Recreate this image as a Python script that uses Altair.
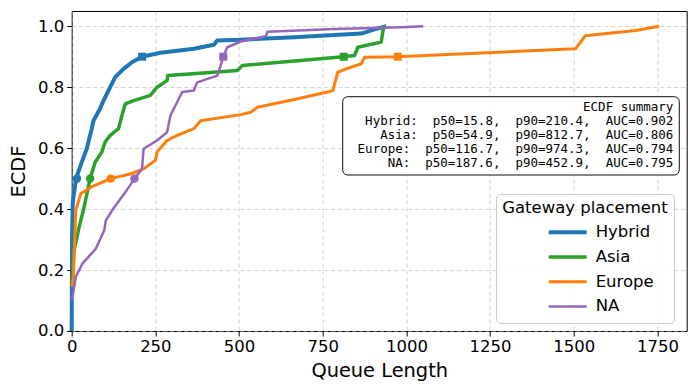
import altair as alt
import pandas as pd

series = ["Hybrid", "Asia", "Europe", "NA"]
colors = ["#1f77b4", "#2ca02c", "#ff7f0e", "#9467bd"]
widths = [4.0, 2.5, 2.5, 2.5]

hybrid_x = [0, 1, 3, 8, 13, 30, 45, 60, 65, 85, 95, 115, 130, 155, 180, 210, 265, 365, 425, 435, 505, 665, 865, 905, 940]
hybrid_y = [0.0, 0.30, 0.42, 0.46, 0.50, 0.554, 0.598, 0.664, 0.69, 0.73, 0.756, 0.80, 0.833, 0.86, 0.882, 0.90, 0.913, 0.926, 0.939, 0.953, 0.956, 0.964, 0.976, 0.99, 1.0]

asia_x = [1, 7, 22, 37, 54.9, 70, 90, 100, 115, 140, 150, 160, 185, 235, 255, 285, 287, 425, 495, 510, 812.7, 845, 855, 925, 930, 935]
asia_y = [0.15, 0.264, 0.34, 0.406, 0.50, 0.554, 0.587, 0.62, 0.642, 0.664, 0.707, 0.745, 0.756, 0.773, 0.80, 0.822, 0.838, 0.849, 0.855, 0.871, 0.90, 0.904, 0.931, 0.948, 0.986, 1.0]

europe_x = [1, 5, 12, 27, 57, 116.7, 177, 215, 250, 255, 285, 315, 365, 385, 505, 535, 555, 675, 765, 780, 795, 820, 865, 875, 974.3, 1505, 1535, 1685, 1755]
europe_y = [0.145, 0.177, 0.395, 0.45, 0.472, 0.50, 0.516, 0.532, 0.56, 0.587, 0.625, 0.642, 0.664, 0.69, 0.71, 0.718, 0.734, 0.762, 0.784, 0.789, 0.849, 0.86, 0.877, 0.898, 0.90, 0.926, 0.969, 0.986, 1.0]

na_x = [1, 12, 32, 72, 97, 102, 127, 157, 187.6, 210, 215, 255, 285, 295, 310, 330, 365, 375, 435, 445, 452.9, 465, 505, 580, 585, 785, 985, 1050]
na_y = [0.10, 0.177, 0.221, 0.27, 0.33, 0.363, 0.406, 0.45, 0.50, 0.532, 0.598, 0.625, 0.652, 0.707, 0.74, 0.784, 0.789, 0.816, 0.838, 0.871, 0.90, 0.931, 0.95, 0.967, 0.982, 0.991, 0.997, 1.0]

p50 = [15.8, 54.9, 116.7, 187.6]
p90 = [210.4, 812.7, 974.3, 452.9]
auc = [0.902, 0.806, 0.794, 0.795]

xs = [hybrid_x, asia_x, europe_x, na_x]
ys = [hybrid_y, asia_y, europe_y, na_y]

rows = []
for s, xv, yv in zip(series, xs, ys):
    for i, (a, b) in enumerate(zip(xv, yv)):
        rows.append({"series": s, "x": a, "y": b, "i": i})
df_lines = pd.DataFrame(rows)

df_p50 = pd.DataFrame({"series": series, "x": p50, "y": [0.5] * 4})
df_p90 = pd.DataFrame({"series": series, "x": p90, "y": [0.9] * 4})

NB = "\u00a0"
lines = ["ECDF summary"]
for s, a, b, c in zip(series, p50, p90, auc):
    lines.append(f"{s}:  p50={a:.1f},  p90={b:.1f},  AUC={c:.3f}".replace(" ", NB))
summary_text = "\n".join(lines)
df_box = pd.DataFrame({"t": [summary_text]})

color_scale = alt.Scale(domain=series, range=colors)
xscale = alt.Scale(domain=[0, 1837.5], nice=False)
yscale = alt.Scale(domain=[0, 1.05], nice=False)

xaxis = alt.Axis(values=[0, 250, 500, 750, 1000, 1250, 1500, 1750], format="d", title="Queue Length",
                 titleY=40, titleBaseline="middle", labelFlush=False)
yaxis = alt.Axis(values=[0, 0.2, 0.4, 0.6, 0.8, 1.0], format=".1f", title="ECDF", labelFlush=False,
                 titleX=-53.5, titleY=160, titleAngle=-90, titleBaseline="middle", titleAlign="center")

legend = alt.Legend(
    title="Gateway placement", orient="none", legendX=424.3, legendY=183,
    fillColor="rgba(255,255,255,0.85)", strokeColor="#cccccc", cornerRadius=4, padding=6,
    titleFontSize=16.5, labelFontSize=16.5, titleFontWeight="normal", titleAnchor="middle",
    titleFont="DejaVu Sans", labelFont="DejaVu Sans", titleColor="black", labelColor="black",
    symbolType="stroke", symbolSize=1444, clipHeight=20, rowPadding=4.7, titlePadding=5.8,
    symbolOffset=29.7, labelOffset=7,
)

lines_layer = alt.Chart(df_lines).mark_line(strokeJoin="round").encode(
    x=alt.X("x:Q", scale=xscale, axis=xaxis),
    y=alt.Y("y:Q", scale=yscale, axis=yaxis),
    color=alt.Color("series:N", scale=color_scale, legend=legend),
    strokeWidth=alt.StrokeWidth("series:N", scale=alt.Scale(domain=series, range=widths), legend=legend),
    order="i:Q",
)

p50_layer = alt.Chart(df_p50).mark_point(shape="circle", filled=True, size=72, opacity=1).encode(
    x=alt.X("x:Q", scale=xscale), y=alt.Y("y:Q", scale=yscale),
    color=alt.Color("series:N", scale=color_scale, legend=None),
)
p90_layer = alt.Chart(df_p90).mark_point(shape="square", filled=True, size=64, opacity=1).encode(
    x=alt.X("x:Q", scale=xscale), y=alt.Y("y:Q", scale=yscale),
    color=alt.Color("series:N", scale=color_scale, legend=None),
)

box = alt.Chart(df_box).mark_rect(fill="white", stroke="black", strokeWidth=1, cornerRadius=5, opacity=0.95).encode(
    x=alt.value(271), x2=alt.value(607.6), y=alt.value(85.7), y2=alt.value(164),
)
txt = alt.Chart(df_box).mark_text(align="right", baseline="middle", lineBreak="\n", lineHeight=14.2,
                                  font="DejaVu Sans Mono", fontSize=12.5, color="black").encode(
    x=alt.value(601.6), y=alt.value(95.7), text="t:N",
)

chart = alt.layer(lines_layer, p50_layer, p90_layer, box, txt).properties(
    width=615, height=320,
    autosize=alt.AutoSizeParams(type="none"),
    padding={"left": 63.7, "top": 3, "right": 2, "bottom": 50},
).configure_view(stroke="black", strokeWidth=1).configure_axis(
    domain=False, tickColor="black", tickSize=5, tickWidth=1, labelColor="black",
    labelFont="DejaVu Sans", labelFontSize=16.5, titleFont="DejaVu Sans", titleFontSize=19.4,
    titleFontWeight="normal", titleColor="black", labelPadding=3,
    gridColor="#b0b0b0", gridDash=[4, 3], gridWidth=0.8, gridOpacity=0.7,
)

chart.save("out.html", embed_options={"renderer": "svg", "actions": False})
